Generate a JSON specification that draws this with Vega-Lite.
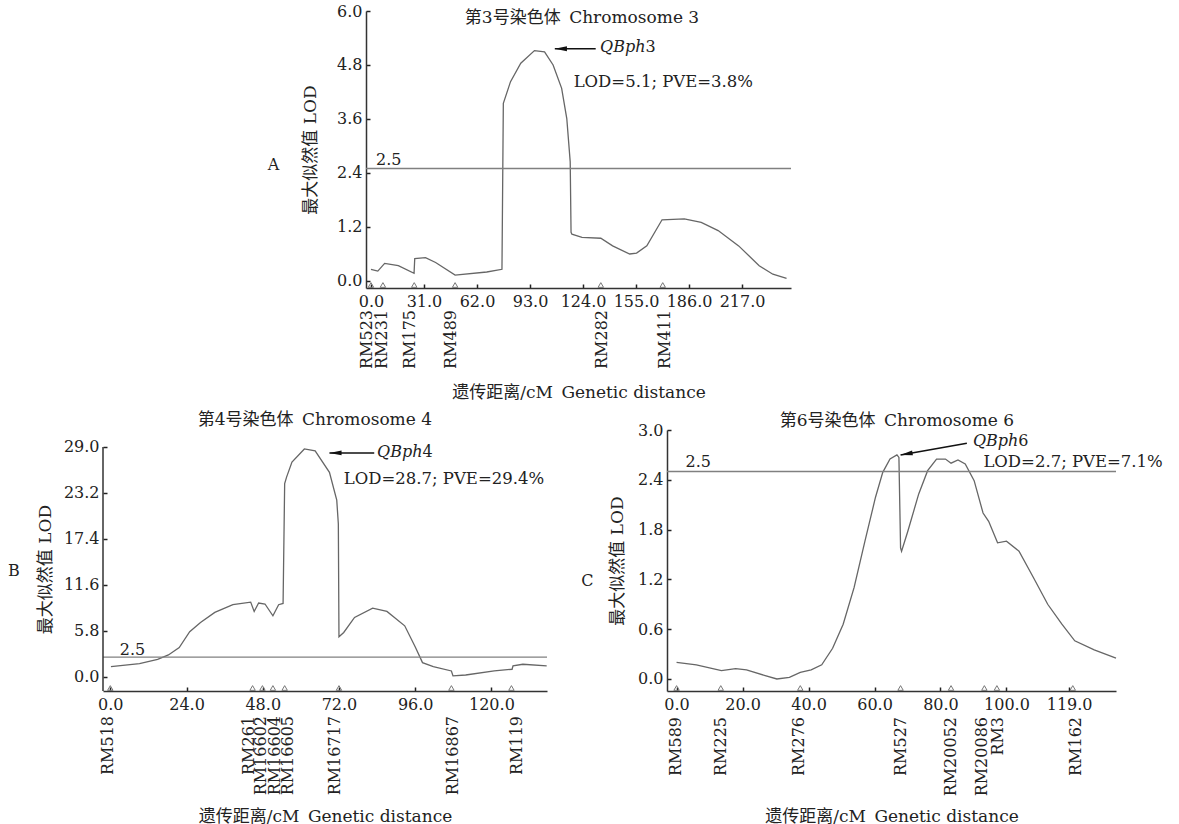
{
"$schema": "https://vega.github.io/schema/vega-lite/v6.json",
"background": "white",
"padding": {"left": 7, "top": 3, "right": 5, "bottom": 3},
"config": {
 "view": {"stroke": null},
 "font": "DejaVu Serif, Noto Sans CJK SC",
 "text": {"font": "DejaVu Serif, Noto Sans CJK SC", "fontSize": 16, "color": "#222"},
 "axis": {"grid": false, "labelFont": "DejaVu Serif", "labelFontSize": 16, "labelColor": "#222", "titleFont": "DejaVu Serif, Noto Sans CJK SC", "titleFontSize": 17, "titleFontWeight": "normal", "titleColor": "#222", "domainColor": "#333", "domainWidth": 1.5, "tickColor": "#222", "tickWidth": 1.5, "tickSize": -4, "labelOverlap": false}
},
"datasets": {
 "curveA": [
  {"cm":0,"lod":0.26},{"cm":4,"lod":0.22},{"cm":8,"lod":0.39},{"cm":16,"lod":0.34},{"cm":25.2,"lod":0.17},{"cm":25.6,"lod":0.5},{"cm":31.9,"lod":0.52},{"cm":37.8,"lod":0.41},{"cm":49.2,"lod":0.13},{"cm":67.7,"lod":0.2},{"cm":76.6,"lod":0.26},{"cm":77.4,"lod":3.95},{"cm":81.6,"lod":4.43},{"cm":87.6,"lod":4.84},{"cm":95.6,"lod":5.12},{"cm":101.5,"lod":5.09},{"cm":106.5,"lod":4.8},{"cm":111.5,"lod":4.28},{"cm":114.5,"lod":3.61},{"cm":116.5,"lod":2.65},{"cm":117.0,"lod":1.08},{"cm":117.5,"lod":1.04},{"cm":123.4,"lod":0.97},{"cm":134.4,"lod":0.95},{"cm":141.3,"lod":0.78},{"cm":151.3,"lod":0.6},{"cm":155.3,"lod":0.62},{"cm":161.3,"lod":0.78},{"cm":170.2,"lod":1.36},{"cm":183.2,"lod":1.38},{"cm":193.1,"lod":1.3},{"cm":203,"lod":1.12},{"cm":215,"lod":0.78},{"cm":227,"lod":0.34},{"cm":235,"lod":0.15},{"cm":243,"lod":0.06}
 ],
 "curveB": [
  {"cm":0.2,"lod":1.31},{"cm":9.2,"lod":1.69},{"cm":14.9,"lod":2.23},{"cm":18.3,"lod":2.78},{"cm":21.7,"lod":3.71},{"cm":25.0,"lod":5.7},{"cm":28.4,"lod":6.87},{"cm":32.9,"lod":8.14},{"cm":38.6,"lod":9.11},{"cm":44.2,"lod":9.44},{"cm":45.3,"lod":8.26},{"cm":46.7,"lod":9.32},{"cm":48.7,"lod":9.2},{"cm":51.2,"lod":7.71},{"cm":53.0,"lod":9.11},{"cm":54.4,"lod":9.27},{"cm":54.9,"lod":24.37},{"cm":55.5,"lod":25.2},{"cm":57.2,"lod":27.1},{"cm":61.1,"lod":28.75},{"cm":64.5,"lod":28.5},{"cm":69.0,"lod":25.8},{"cm":71.3,"lod":22.3},{"cm":71.8,"lod":19.3},{"cm":72.0,"lod":5.06},{"cm":73.5,"lod":5.61},{"cm":76.9,"lod":7.5},{"cm":82.6,"lod":8.68},{"cm":87.1,"lod":8.26},{"cm":92.7,"lod":6.45},{"cm":96.1,"lod":3.71},{"cm":98.3,"lod":1.81},{"cm":101.7,"lod":1.31},{"cm":107.4,"lod":0.76},{"cm":107.9,"lod":0.13},{"cm":111.9,"lod":0.25},{"cm":120.9,"lod":0.76},{"cm":126.5,"lod":0.97},{"cm":126.8,"lod":1.39},{"cm":129.9,"lod":1.6},{"cm":137.4,"lod":1.39}
 ],
 "curveC": [
  {"cm":0,"lod":0.2},{"cm":6,"lod":0.17},{"cm":13.6,"lod":0.1},{"cm":17.9,"lod":0.125},{"cm":21.2,"lod":0.11},{"cm":26.6,"lod":0.044},{"cm":30.4,"lod":0.0},{"cm":34.2,"lod":0.02},{"cm":37.5,"lod":0.08},{"cm":40.8,"lod":0.11},{"cm":44,"lod":0.17},{"cm":47.3,"lod":0.37},{"cm":50.5,"lod":0.66},{"cm":53.8,"lod":1.1},{"cm":57.1,"lod":1.66},{"cm":60.3,"lod":2.19},{"cm":62.5,"lod":2.49},{"cm":64.7,"lod":2.65},{"cm":66.8,"lod":2.7},{"cm":67.4,"lod":2.67},{"cm":67.9,"lod":1.58},{"cm":68.2,"lod":1.54},{"cm":70.1,"lod":1.78},{"cm":73.4,"lod":2.23},{"cm":76.1,"lod":2.51},{"cm":78.8,"lod":2.65},{"cm":81.5,"lod":2.65},{"cm":83.2,"lod":2.6},{"cm":85.3,"lod":2.64},{"cm":87.5,"lod":2.59},{"cm":90.2,"lod":2.39},{"cm":92.9,"lod":2.0},{"cm":94.6,"lod":1.9},{"cm":97.3,"lod":1.64},{"cm":100,"lod":1.66},{"cm":103.8,"lod":1.54},{"cm":108.2,"lod":1.22},{"cm":112.5,"lod":0.9},{"cm":116.8,"lod":0.66},{"cm":120.7,"lod":0.46},{"cm":126.6,"lod":0.35},{"cm":133.2,"lod":0.25}
 ],
 "markersA": [
  {"name":"RM523","cm":0,"lab":-2.5},{"name":"RM231","cm":7,"lab":6.5},{"name":"RM175","cm":25.3,"lab":23},{"name":"RM489","cm":49.2,"lab":47},{"name":"RM282","cm":134.4,"lab":135},{"name":"RM411","cm":170.6,"lab":172}
 ],
 "markersB": [
  {"name":"RM518","cm":0,"lab":-0.7},{"name":"RM261","cm":44.8,"lab":43.8},{"name":"RM16602","cm":47.9,"lab":47.6},{"name":"RM16604","cm":51.2,"lab":51.7},{"name":"RM16605","cm":54.9,"lab":56},{"name":"RM16717","cm":72,"lab":70.6},{"name":"RM16867","cm":107.4,"lab":108},{"name":"RM119","cm":126.3,"lab":128}
 ],
 "markersC": [
  {"name":"RM589","cm":0,"lab":-0.2},{"name":"RM225","cm":13.4,"lab":13.4},{"name":"RM276","cm":37.5,"lab":37.1},{"name":"RM527","cm":67.9,"lab":67.9},{"name":"RM20052","cm":83.2,"lab":83.1},{"name":"RM20086","cm":93.3,"lab":92.5},{"name":"RM3","cm":97.1,"lab":97.3},{"name":"RM162","cm":120.1,"lab":121}
 ],
 "annA": [
  {"kind":"title","cm":123.4,"lod":5.85,"t":"第3号染色体\u2002Chromosome 3"},
  {"kind":"center","cm":-57,"lod":2.57,"t":"A"},
  {"kind":"left","cm":3,"lod":2.68,"t":"2.5"},
  {"kind":"lod","cm":118.5,"lod":4.43,"t":"LOD=5.1; PVE=3.8%"},
  {"kind":"italic","cm":160.5,"lod":5.2,"t":"QBph"},
  {"kind":"left","cm":160.5,"lod":5.2,"t":"3"}
 ],
 "annB": [
  {"kind":"title","cm":64.4,"lod":32.4,"t":"第4号染色体\u2002Chromosome 4"},
  {"kind":"center","cm":-30.4,"lod":13.3,"t":"B"},
  {"kind":"left","cm":3,"lod":3.37,"t":"2.5"},
  {"kind":"lod","cm":73.5,"lod":25.0,"t":"LOD=28.7; PVE=29.4%"},
  {"kind":"italic","cm":98.3,"lod":28.4,"t":"QBph"},
  {"kind":"left","cm":98.3,"lod":28.4,"t":"4"}
 ],
 "annC": [
  {"kind":"title","cm":66.8,"lod":3.11,"t":"第6号染色体\u2002Chromosome 6"},
  {"kind":"center","cm":-27,"lod":1.18,"t":"C"},
  {"kind":"left","cm":2.7,"lod":2.61,"t":"2.5"},
  {"kind":"lod","cm":93,"lod":2.61,"t":"LOD=2.7; PVE=7.1%"},
  {"kind":"italic","cm":103.6,"lod":2.87,"t":"QBph"},
  {"kind":"left","cm":103.6,"lod":2.87,"t":"6"}
 ],
 "arrowA": [{"cm":107.5,"lod":5.16,"cm2":131.4,"lod2":5.16}],
 "arrowB": [{"cm":69,"lod":28.25,"cm2":83.1,"lod2":28.25}],
 "arrowC": [{"cm":67.9,"lod":2.70,"cm2":88,"lod2":2.84}],
 "axisB": [{"cm":-2.3,"lod":-1.77,"lod2":29}],
 "threshold": [{"lod":2.5}]
},
"spacing": 11,
"vconcat": [
 {"spacing": 0, "hconcat": [
  {"width": 164, "height": 10, "data": {"values": []}, "mark": "point", "encoding": {}},
  {"width": 425, "height": 277, "layer": [
   {"data": {"name": "curveA"}, "mark": {"type": "line", "color": "#666", "strokeWidth": 1.3},
    "encoding": {
     "x": {"field": "cm", "type": "quantitative", "scale": {"domain": [-2.9, 245.6], "nice": false, "zero": false}, "axis": {"values": [0,31,62,93,124,155,186,217], "format": ".1f", "title": "遗传距离/cM\u2002Genetic distance", "labelPadding": 9, "titleY": 104, "titleBaseline": "middle"}},
     "y": {"field": "lod", "type": "quantitative", "scale": {"domain": [-0.156, 6.0], "nice": false, "zero": false}, "axis": {"values": [0,1.2,2.4,3.6,4.8,6], "format": ".1f", "title": "最大似然值 LOD", "labelPadding": 8, "titleX": -56, "titleBaseline": "middle"}}}},
   {"data": {"name": "threshold"}, "mark": {"type": "rule", "color": "#808080", "strokeWidth": 1.3},
    "encoding": {"y": {"field": "lod", "type": "quantitative"}}},
   {"data": {"name": "markersA"}, "mark": {"type": "point", "shape": "triangle-up", "filled": false, "stroke": "#777", "strokeWidth": 1, "size": 30, "opacity": 1, "yOffset": -3},
    "encoding": {"x": {"field": "cm", "type": "quantitative"}, "y": {"datum": -0.156, "type": "quantitative"}}},
   {"data": {"name": "markersA"}, "mark": {"type": "text", "angle": 270, "align": "right", "baseline": "middle", "fontSize": 16, "yOffset": 22},
    "encoding": {"x": {"field": "lab", "type": "quantitative"}, "y": {"datum": -0.156, "type": "quantitative"}, "text": {"field": "name"}}},
   {"data": {"name": "annA"}, "transform": [{"filter": "datum.kind == 'title'"}], "mark": {"type": "text", "align": "center", "baseline": "middle", "fontSize": 17},
    "encoding": {"x": {"field": "cm", "type": "quantitative"}, "y": {"field": "lod", "type": "quantitative"}, "text": {"field": "t"}}},
   {"data": {"name": "annA"}, "transform": [{"filter": "datum.kind == 'center'"}], "mark": {"type": "text", "align": "center", "baseline": "middle"},
    "encoding": {"x": {"field": "cm", "type": "quantitative"}, "y": {"field": "lod", "type": "quantitative"}, "text": {"field": "t"}}},
   {"data": {"name": "annA"}, "transform": [{"filter": "datum.kind == 'left'"}], "mark": {"type": "text", "align": "left", "baseline": "middle"},
    "encoding": {"x": {"field": "cm", "type": "quantitative"}, "y": {"field": "lod", "type": "quantitative"}, "text": {"field": "t"}}},
   {"data": {"name": "annA"}, "transform": [{"filter": "datum.kind == 'lod'"}], "mark": {"type": "text", "align": "left", "baseline": "middle", "fontSize": 16.5},
    "encoding": {"x": {"field": "cm", "type": "quantitative"}, "y": {"field": "lod", "type": "quantitative"}, "text": {"field": "t"}}},
   {"data": {"name": "annA"}, "transform": [{"filter": "datum.kind == 'italic'"}], "mark": {"type": "text", "align": "right", "baseline": "middle", "fontStyle": "italic"},
    "encoding": {"x": {"field": "cm", "type": "quantitative"}, "y": {"field": "lod", "type": "quantitative"}, "text": {"field": "t"}}},
   {"data": {"name": "arrowA"}, "mark": {"type": "rule", "color": "#111", "strokeWidth": 1.5},
    "encoding": {"x": {"field": "cm", "type": "quantitative"}, "x2": {"field": "cm2"}, "y": {"field": "lod", "type": "quantitative"}, "y2": {"field": "lod2"}}},
   {"data": {"name": "arrowA"}, "mark": {"type": "point", "shape": "M -1 0 L 1 -0.4 L 1 0.4 Z", "filled": true, "color": "#111", "size": 150, "opacity": 1, "xOffset": 6},
    "encoding": {"x": {"field": "cm", "type": "quantitative"}, "y": {"field": "lod", "type": "quantitative"}}}
  ]}
 ]},
 {"spacing": 31, "hconcat": [
   {"width": 444, "height": 261, "layer": [
    {"data": {"name": "curveB"}, "mark": {"type": "line", "color": "#666", "strokeWidth": 1.3},
     "encoding": {
      "x": {"field": "cm", "type": "quantitative", "scale": {"domain": [-2.3, 137.5], "nice": false, "zero": false}, "axis": {"values": [0,24,48,72,96,120], "format": ".1f", "title": "遗传距离/cM\u2002Genetic distance", "labelPadding": 9, "titleY": 125, "titleBaseline": "middle"}},
      "y": {"field": "lod", "type": "quantitative", "scale": {"domain": [-1.77, 31.14], "nice": false, "zero": false}, "axis": {"values": [0,5.8,11.6,17.4,23.2,29], "format": ".1f", "title": "最大似然值 LOD", "domain": false, "labelPadding": 8, "titleX": -58, "titleY": 139, "titleBaseline": "middle"}}}},
    {"data": {"name": "threshold"}, "mark": {"type": "rule", "color": "#808080", "strokeWidth": 1.3},
     "encoding": {"y": {"field": "lod", "type": "quantitative"}}},
    {"data": {"name": "axisB"}, "mark": {"type": "rule", "color": "#333", "strokeWidth": 1.5},
     "encoding": {"x": {"field": "cm", "type": "quantitative"}, "y": {"field": "lod", "type": "quantitative"}, "y2": {"field": "lod2"}}},
    {"data": {"name": "markersB"}, "mark": {"type": "point", "shape": "triangle-up", "filled": false, "stroke": "#777", "strokeWidth": 1, "size": 30, "opacity": 1, "yOffset": -3},
     "encoding": {"x": {"field": "cm", "type": "quantitative"}, "y": {"datum": -1.77, "type": "quantitative"}}},
    {"data": {"name": "markersB"}, "mark": {"type": "text", "angle": 270, "align": "right", "baseline": "middle", "fontSize": 16, "yOffset": 25},
     "encoding": {"x": {"field": "lab", "type": "quantitative"}, "y": {"datum": -1.77, "type": "quantitative"}, "text": {"field": "name"}}},
    {"data": {"name": "annB"}, "transform": [{"filter": "datum.kind == 'title'"}], "mark": {"type": "text", "align": "center", "baseline": "middle", "fontSize": 17},
     "encoding": {"x": {"field": "cm", "type": "quantitative"}, "y": {"field": "lod", "type": "quantitative"}, "text": {"field": "t"}}},
    {"data": {"name": "annB"}, "transform": [{"filter": "datum.kind == 'center'"}], "mark": {"type": "text", "align": "center", "baseline": "middle"},
     "encoding": {"x": {"field": "cm", "type": "quantitative"}, "y": {"field": "lod", "type": "quantitative"}, "text": {"field": "t"}}},
    {"data": {"name": "annB"}, "transform": [{"filter": "datum.kind == 'left'"}], "mark": {"type": "text", "align": "left", "baseline": "middle"},
     "encoding": {"x": {"field": "cm", "type": "quantitative"}, "y": {"field": "lod", "type": "quantitative"}, "text": {"field": "t"}}},
    {"data": {"name": "annB"}, "transform": [{"filter": "datum.kind == 'lod'"}], "mark": {"type": "text", "align": "left", "baseline": "middle", "fontSize": 16.5},
     "encoding": {"x": {"field": "cm", "type": "quantitative"}, "y": {"field": "lod", "type": "quantitative"}, "text": {"field": "t"}}},
    {"data": {"name": "annB"}, "transform": [{"filter": "datum.kind == 'italic'"}], "mark": {"type": "text", "align": "right", "baseline": "middle", "fontStyle": "italic"},
     "encoding": {"x": {"field": "cm", "type": "quantitative"}, "y": {"field": "lod", "type": "quantitative"}, "text": {"field": "t"}}},
    {"data": {"name": "arrowB"}, "mark": {"type": "rule", "color": "#111", "strokeWidth": 1.5},
     "encoding": {"x": {"field": "cm", "type": "quantitative"}, "x2": {"field": "cm2"}, "y": {"field": "lod", "type": "quantitative"}, "y2": {"field": "lod2"}}},
    {"data": {"name": "arrowB"}, "mark": {"type": "point", "shape": "M -1 0 L 1 -0.4 L 1 0.4 Z", "filled": true, "color": "#111", "size": 150, "opacity": 1, "xOffset": 6},
     "encoding": {"x": {"field": "cm", "type": "quantitative"}, "y": {"field": "lod", "type": "quantitative"}}}
   ]},
  {"width": 449, "height": 261, "layer": [
   {"data": {"name": "curveC"}, "mark": {"type": "line", "color": "#666", "strokeWidth": 1.3},
    "encoding": {
     "x": {"field": "cm", "type": "quantitative", "scale": {"domain": [-2.9, 133.2], "nice": false, "zero": false}, "axis": {"values": [0,20,40,60,80,100,119], "format": ".1f", "title": "遗传距离/cM\u2002Genetic distance", "labelPadding": 9, "titleY": 125, "titleBaseline": "middle"}},
     "y": {"field": "lod", "type": "quantitative", "scale": {"domain": [-0.145, 3.0], "nice": false, "zero": false}, "axis": {"values": [0,0.6,1.2,1.8,2.4,3.0], "format": ".1f", "title": "最大似然值 LOD", "labelPadding": 8, "titleX": -50, "titleBaseline": "middle"}}}},
   {"data": {"name": "threshold"}, "mark": {"type": "rule", "color": "#808080", "strokeWidth": 1.3},
    "encoding": {"y": {"field": "lod", "type": "quantitative"}}},
   {"data": {"name": "markersC"}, "mark": {"type": "point", "shape": "triangle-up", "filled": false, "stroke": "#777", "strokeWidth": 1, "size": 30, "opacity": 1, "yOffset": -3},
    "encoding": {"x": {"field": "cm", "type": "quantitative"}, "y": {"datum": -0.145, "type": "quantitative"}}},
   {"data": {"name": "markersC"}, "mark": {"type": "text", "angle": 270, "align": "right", "baseline": "middle", "fontSize": 16, "yOffset": 26},
    "encoding": {"x": {"field": "lab", "type": "quantitative"}, "y": {"datum": -0.145, "type": "quantitative"}, "text": {"field": "name"}}},
   {"data": {"name": "annC"}, "transform": [{"filter": "datum.kind == 'title'"}], "mark": {"type": "text", "align": "center", "baseline": "middle", "fontSize": 17},
    "encoding": {"x": {"field": "cm", "type": "quantitative"}, "y": {"field": "lod", "type": "quantitative"}, "text": {"field": "t"}}},
   {"data": {"name": "annC"}, "transform": [{"filter": "datum.kind == 'center'"}], "mark": {"type": "text", "align": "center", "baseline": "middle"},
    "encoding": {"x": {"field": "cm", "type": "quantitative"}, "y": {"field": "lod", "type": "quantitative"}, "text": {"field": "t"}}},
   {"data": {"name": "annC"}, "transform": [{"filter": "datum.kind == 'left'"}], "mark": {"type": "text", "align": "left", "baseline": "middle"},
    "encoding": {"x": {"field": "cm", "type": "quantitative"}, "y": {"field": "lod", "type": "quantitative"}, "text": {"field": "t"}}},
   {"data": {"name": "annC"}, "transform": [{"filter": "datum.kind == 'lod'"}], "mark": {"type": "text", "align": "left", "baseline": "middle", "fontSize": 16.5},
    "encoding": {"x": {"field": "cm", "type": "quantitative"}, "y": {"field": "lod", "type": "quantitative"}, "text": {"field": "t"}}},
   {"data": {"name": "annC"}, "transform": [{"filter": "datum.kind == 'italic'"}], "mark": {"type": "text", "align": "right", "baseline": "middle", "fontStyle": "italic"},
    "encoding": {"x": {"field": "cm", "type": "quantitative"}, "y": {"field": "lod", "type": "quantitative"}, "text": {"field": "t"}}},
   {"data": {"name": "arrowC"}, "mark": {"type": "rule", "color": "#111", "strokeWidth": 1.5},
    "encoding": {"x": {"field": "cm", "type": "quantitative"}, "x2": {"field": "cm2"}, "y": {"field": "lod", "type": "quantitative"}, "y2": {"field": "lod2"}}},
   {"data": {"name": "arrowC"}, "mark": {"type": "point", "shape": "M -1 0 L 1 -0.4 L 1 0.4 Z", "filled": true, "color": "#111", "size": 150, "opacity": 1, "angle": 350, "xOffset": 5.9, "yOffset": -1},
    "encoding": {"x": {"field": "cm", "type": "quantitative"}, "y": {"field": "lod", "type": "quantitative"}}}
  ]}
 ]}
]
}
